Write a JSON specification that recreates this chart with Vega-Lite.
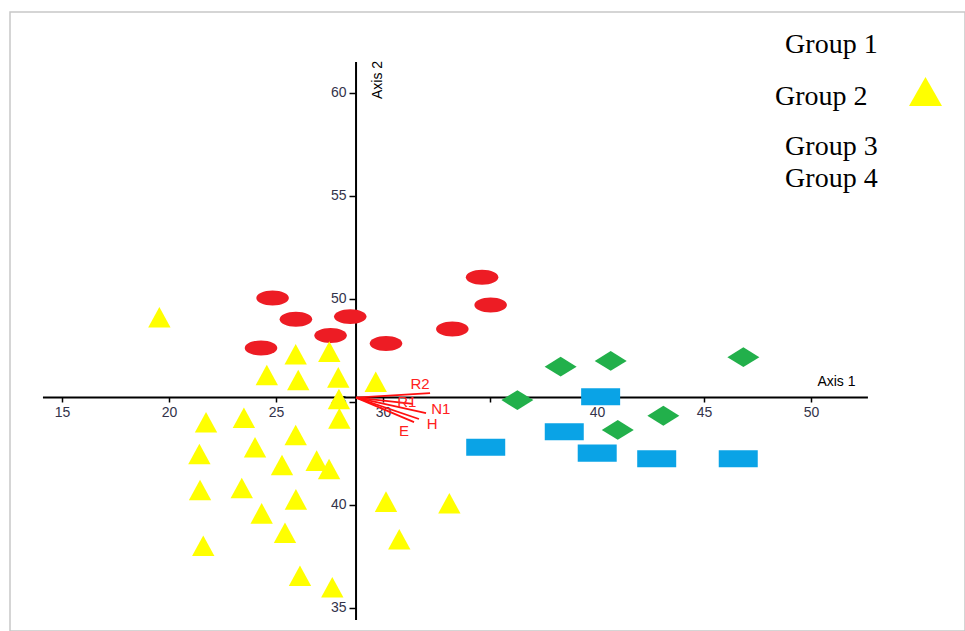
{
  "$schema": "https://vega.github.io/schema/vega-lite/v6.json",
  "width": 955,
  "height": 619,
  "autosize": {"type": "none"},
  "padding": {"left": 10, "top": 12, "right": 0, "bottom": 0},
  "background": "white",
  "config": {"view": {"stroke": "#c8c8c8", "strokeWidth": 1.5}, "font": "Liberation Sans"},
  "datasets": {
    "axislines": [
      {"x": 14.11, "y": 45.2, "x2": 52.66, "y2": 45.2},
      {"x": 28.74, "y": 34.4, "x2": 28.74, "y2": 61.49}
    ],
    "vectors": [
      {"name": "R2", "x": 28.74, "y": 45.2, "x2": 32.2, "y2": 45.42},
      {"name": "R1", "x": 28.74, "y": 45.2, "x2": 31.4, "y2": 44.89},
      {"name": "N1", "x": 28.74, "y": 45.2, "x2": 32.01, "y2": 44.45},
      {"name": "H", "x": 28.74, "y": 45.2, "x2": 31.68, "y2": 44.16},
      {"name": "E", "x": 28.74, "y": 45.2, "x2": 31.45, "y2": 44.01}
    ],
    "vectorlabels": [
      {"label": "R2", "x": 31.73, "y": 45.86},
      {"label": "R1", "x": 31.11, "y": 44.97},
      {"label": "N1", "x": 32.7, "y": 44.64},
      {"label": "H", "x": 32.3, "y": 43.9},
      {"label": "E", "x": 30.98, "y": 43.6}
    ],
    "points": [
      {"group": "Group 1", "x": 24.84, "y": 50.03},
      {"group": "Group 1", "x": 25.93, "y": 49.0},
      {"group": "Group 1", "x": 28.47, "y": 49.13},
      {"group": "Group 1", "x": 27.55, "y": 48.21},
      {"group": "Group 1", "x": 24.3, "y": 47.61},
      {"group": "Group 1", "x": 30.14, "y": 47.83},
      {"group": "Group 1", "x": 33.24, "y": 48.53},
      {"group": "Group 1", "x": 34.63, "y": 51.04},
      {"group": "Group 1", "x": 35.03, "y": 49.69},
      {"group": "Group 2", "x": 19.55, "y": 49.1},
      {"group": "Group 2", "x": 25.92, "y": 47.3},
      {"group": "Group 2", "x": 27.49, "y": 47.43},
      {"group": "Group 2", "x": 24.57, "y": 46.3},
      {"group": "Group 2", "x": 26.04, "y": 46.05},
      {"group": "Group 2", "x": 27.91, "y": 46.18},
      {"group": "Group 2", "x": 29.66, "y": 45.97},
      {"group": "Group 2", "x": 27.94, "y": 45.13},
      {"group": "Group 2", "x": 27.96, "y": 44.19},
      {"group": "Group 2", "x": 21.73, "y": 44.0},
      {"group": "Group 2", "x": 23.5, "y": 44.22},
      {"group": "Group 2", "x": 25.92, "y": 43.38},
      {"group": "Group 2", "x": 24.02, "y": 42.79},
      {"group": "Group 2", "x": 21.42, "y": 42.46},
      {"group": "Group 2", "x": 25.28, "y": 41.93},
      {"group": "Group 2", "x": 26.9, "y": 42.14},
      {"group": "Group 2", "x": 27.48, "y": 41.73},
      {"group": "Group 2", "x": 21.45, "y": 40.71},
      {"group": "Group 2", "x": 23.4, "y": 40.81},
      {"group": "Group 2", "x": 25.93, "y": 40.26},
      {"group": "Group 2", "x": 24.33, "y": 39.58},
      {"group": "Group 2", "x": 25.42, "y": 38.64},
      {"group": "Group 2", "x": 21.6, "y": 38.01},
      {"group": "Group 2", "x": 26.12, "y": 36.55},
      {"group": "Group 2", "x": 27.63, "y": 35.99},
      {"group": "Group 2", "x": 30.14, "y": 40.15},
      {"group": "Group 2", "x": 30.76, "y": 38.32},
      {"group": "Group 2", "x": 33.1, "y": 40.07},
      {"group": "Group 3", "x": 38.3, "y": 46.7},
      {"group": "Group 3", "x": 40.64, "y": 46.98},
      {"group": "Group 3", "x": 46.84, "y": 47.16},
      {"group": "Group 3", "x": 36.28, "y": 45.08},
      {"group": "Group 3", "x": 43.1, "y": 44.32},
      {"group": "Group 3", "x": 40.97, "y": 43.63},
      {"group": "Group 4", "x": 40.17, "y": 45.24},
      {"group": "Group 4", "x": 38.47, "y": 43.54},
      {"group": "Group 4", "x": 34.8, "y": 42.79},
      {"group": "Group 4", "x": 40.01, "y": 42.5},
      {"group": "Group 4", "x": 42.79, "y": 42.23},
      {"group": "Group 4", "x": 46.6, "y": 42.23}
    ],
    "legendtext": [
      {"label": "Group 1", "x": 48.79, "y": 61.91},
      {"label": "Group 2", "x": 48.32, "y": 59.4},
      {"label": "Group 3", "x": 48.79, "y": 56.98},
      {"label": "Group 4", "x": 48.79, "y": 55.44}
    ],
    "legendsymbol": [
      {"group": "Group 2", "x": 55.35, "y": 60.06}
    ],
    "axis1": [{"label": "Axis 1", "x": 50.3, "y": 45.96}],
    "axis2": [{"label": "Axis 2", "x": 29.77, "y": 60.62}]
  },
  "encoding": {
    "x": {
      "field": "x",
      "type": "quantitative",
      "scale": {"domain": [12.57, 57.196], "nice": false, "zero": false},
      "axis": {
        "orient": "bottom",
        "offset": -234,
        "values": [15, 20, 25, 30, 35, 40, 45, 50],
        "labelExpr": "datum.value == 35 ? '' : datum.label",
        "domain": false,
        "grid": false,
        "ticks": true,
        "tickSize": 5,
        "tickWidth": 1.5,
        "tickColor": "#000000",
        "labelFont": "Liberation Sans",
        "labelFontSize": 14,
        "labelColor": "#33334a",
        "labelPadding": 3,
        "labelFlush": false,
        "labelOverlap": false,
        "title": null
      }
    },
    "y": {
      "field": "y",
      "type": "quantitative",
      "scale": {"domain": [33.869, 63.917], "nice": false, "zero": false},
      "axis": {
        "orient": "left",
        "offset": -346,
        "values": [35, 40, 45, 50, 55, 60],
        "domain": false,
        "grid": false,
        "ticks": true,
        "tickSize": 7,
        "tickWidth": 1.5,
        "tickColor": "#000000",
        "labelFont": "Liberation Sans",
        "labelFontSize": 14,
        "labelColor": "#33334a",
        "labelPadding": 3,
        "labelFlush": false,
        "labelOverlap": false,
        "title": null
      }
    }
  },
  "layer": [
    {
      "data": {"name": "axislines"},
      "mark": {"type": "rule", "color": "#000000", "strokeWidth": 2},
      "encoding": {
        "x2": {"field": "x2"},
        "y2": {"field": "y2"}
      }
    },
    {
      "data": {"name": "vectors"},
      "mark": {"type": "rule", "color": "#ff1010", "strokeWidth": 1.8},
      "encoding": {
        "x2": {"field": "x2"},
        "y2": {"field": "y2"}
      }
    },
    {
      "data": {"name": "points"},
      "mark": {"type": "point", "filled": true, "opacity": 1, "strokeWidth": 0},
      "encoding": {
        "shape": {
          "field": "group",
          "type": "nominal",
          "scale": {
            "domain": ["Group 1", "Group 2", "Group 3", "Group 4"],
            "range": [
              "M-1,0A1,0.46,0,1,0,1,0A1,0.46,0,1,0,-1,0Z",
              "M0,-0.92L1,0.92L-1,0.92Z",
              "M-1,0L0,-0.62L1,0L0,0.62Z",
              "M-1,-0.44L1,-0.44L1,0.44L-1,0.44Z"
            ]
          },
          "legend": null
        },
        "color": {
          "field": "group",
          "type": "nominal",
          "scale": {
            "domain": ["Group 1", "Group 2", "Group 3", "Group 4"],
            "range": ["#ed1c24", "#ffff00", "#22b04b", "#0aa3e6"]
          },
          "legend": null
        },
        "size": {
          "field": "group",
          "type": "nominal",
          "scale": {
            "type": "ordinal",
            "domain": ["Group 1", "Group 2", "Group 3", "Group 4"],
            "range": [1060, 500, 1024, 1521]
          },
          "legend": null
        }
      }
    },
    {
      "data": {"name": "vectorlabels"},
      "mark": {"type": "text", "color": "#ff2020", "fontSize": 15, "font": "Liberation Sans", "align": "center", "baseline": "middle"},
      "encoding": {"text": {"field": "label"}}
    },
    {
      "data": {"name": "axis1"},
      "mark": {"type": "text", "color": "#000000", "fontSize": 14, "font": "Liberation Sans", "align": "left", "baseline": "middle"},
      "encoding": {"text": {"field": "label"}}
    },
    {
      "data": {"name": "axis2"},
      "mark": {"type": "text", "color": "#000000", "fontSize": 14, "font": "Liberation Sans", "align": "center", "baseline": "middle", "angle": 270},
      "encoding": {"text": {"field": "label"}}
    },
    {
      "data": {"name": "legendtext"},
      "mark": {"type": "text", "color": "#000000", "fontSize": 28, "font": "Liberation Serif", "align": "left", "baseline": "alphabetic"},
      "encoding": {"text": {"field": "label"}}
    },
    {
      "data": {"name": "legendsymbol"},
      "mark": {"type": "point", "filled": true, "opacity": 1, "strokeWidth": 0, "shape": "M0,-0.88L1,0.88L-1,0.88Z", "size": 1089, "color": "#ffff00"}
    }
  ]
}
